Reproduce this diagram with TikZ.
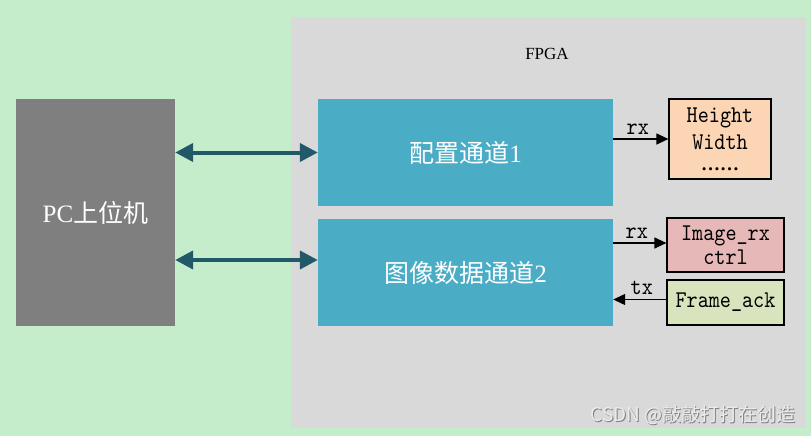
\documentclass[tikz,border=0pt]{standalone}
\usepackage{fontspec}
\setmainfont{Liberation Serif}
\newfontfamily\regfont[FakeStretch=0.88]{lmmono10-regular.otf}
\newfontfamily\cjk{Noto Sans CJK SC}
\usetikzlibrary{arrows.meta}
\definecolor{bggreen}{HTML}{C6EDCB}
\definecolor{fpgagray}{HTML}{D9D9D9}
\definecolor{pcgray}{HTML}{7F7F7F}
\definecolor{chblue}{HTML}{4BACC6}
\definecolor{arrteal}{HTML}{215968}
\definecolor{peachfill}{HTML}{FCD5B5}
\definecolor{pinkfill}{HTML}{E6B9B8}
\definecolor{olivefill}{HTML}{D7E4BD}
\begin{document}
\begin{tikzpicture}[x=1pt,y=-1pt,
  bigbox/.style={draw=none, text=white, font=\fontsize{25}{30}\selectfont, inner sep=0pt},
  regbox/.style={draw=black, line width=1.2pt, align=center, font=\regfont\fontsize{24}{27}\selectfont, inner sep=0pt},
  bus/.style={arrteal, line width=4pt, {Triangle[length=18pt,width=18pt]}-{Triangle[length=18pt,width=18pt]}},
  sig/.style={black, line width=1.2pt, -{Triangle[length=12pt,width=11pt]}},
  lbl/.style={font=\regfont\fontsize{24}{26}\selectfont, inner sep=0pt}]
\fill[bggreen] (0,0) rectangle (811,436);
\useasboundingbox (0,0) rectangle (811,436);
\node[fill=fpgagray, minimum width=515pt, minimum height=411pt, inner sep=0pt] (fpga) at (548.5,222.5) {};
\node[font=\fontsize{17}{20}\selectfont, inner sep=0pt] (fpgalbl) at (547,54) {FPGA};
\node[bigbox, fill=pcgray, minimum width=159pt, minimum height=227pt] (pc) at (95.5,212.5) {PC{\cjk 上位机}};
\node[bigbox, fill=chblue, minimum width=295pt, minimum height=107pt] (cfg) at (465.5,152.5) {{\cjk 配置通道}1};
\node[bigbox, fill=chblue, minimum width=295pt, minimum height=107pt] (img) at (465.5,272.5) {{\cjk 图像数据通道}2};
\node[regbox, fill=peachfill, minimum width=102pt, minimum height=80pt] (hw) at (720,139) {Height\\Width\\[-6pt]{\rmfamily\bfseries\fontsize{19}{20}\selectfont ……}};
\node[regbox, fill=pinkfill, minimum width=117pt, minimum height=54pt] (imgrx) at (725.5,245) {Image\_rx\\[-3pt]ctrl};
\node[regbox, fill=olivefill, minimum width=117pt, minimum height=45pt] (frame) at (725.5,302.5) {Frame\_ack};
\draw[bus] (cfg.west -| pc.east) -- (cfg.west);
\draw[bus] ([yshift=12.5pt]img.west -| pc.east) -- ([yshift=12.5pt]img.west);
\draw[sig] (hw.west -| cfg.east) -- node[lbl, above=4pt, xshift=-3pt] (rxa) {rx} (hw.west);
\draw[sig] ([yshift=2pt]imgrx.west -| img.east) -- node[lbl, above=4pt, xshift=-3pt] (rxb) {rx} ([yshift=2pt]imgrx.west);
\draw[sig] ([yshift=3pt]frame.west) -- node[lbl, above=4pt, xshift=2pt] (txa) {tx} ([yshift=3pt]frame.west -| img.east);
\node[font=\cjk\fontsize{19}{21}\selectfont, text=gray, inner sep=0pt, anchor=east] (wmshadow) at (796.8,415.8) {CSDN @敲敲打打在创造};
\node[font=\cjk\fontsize{19}{21}\selectfont, text=white!92!black, inner sep=0pt, anchor=east] (wm) at (796,415) {CSDN @敲敲打打在创造};
\end{tikzpicture}
\end{document}
